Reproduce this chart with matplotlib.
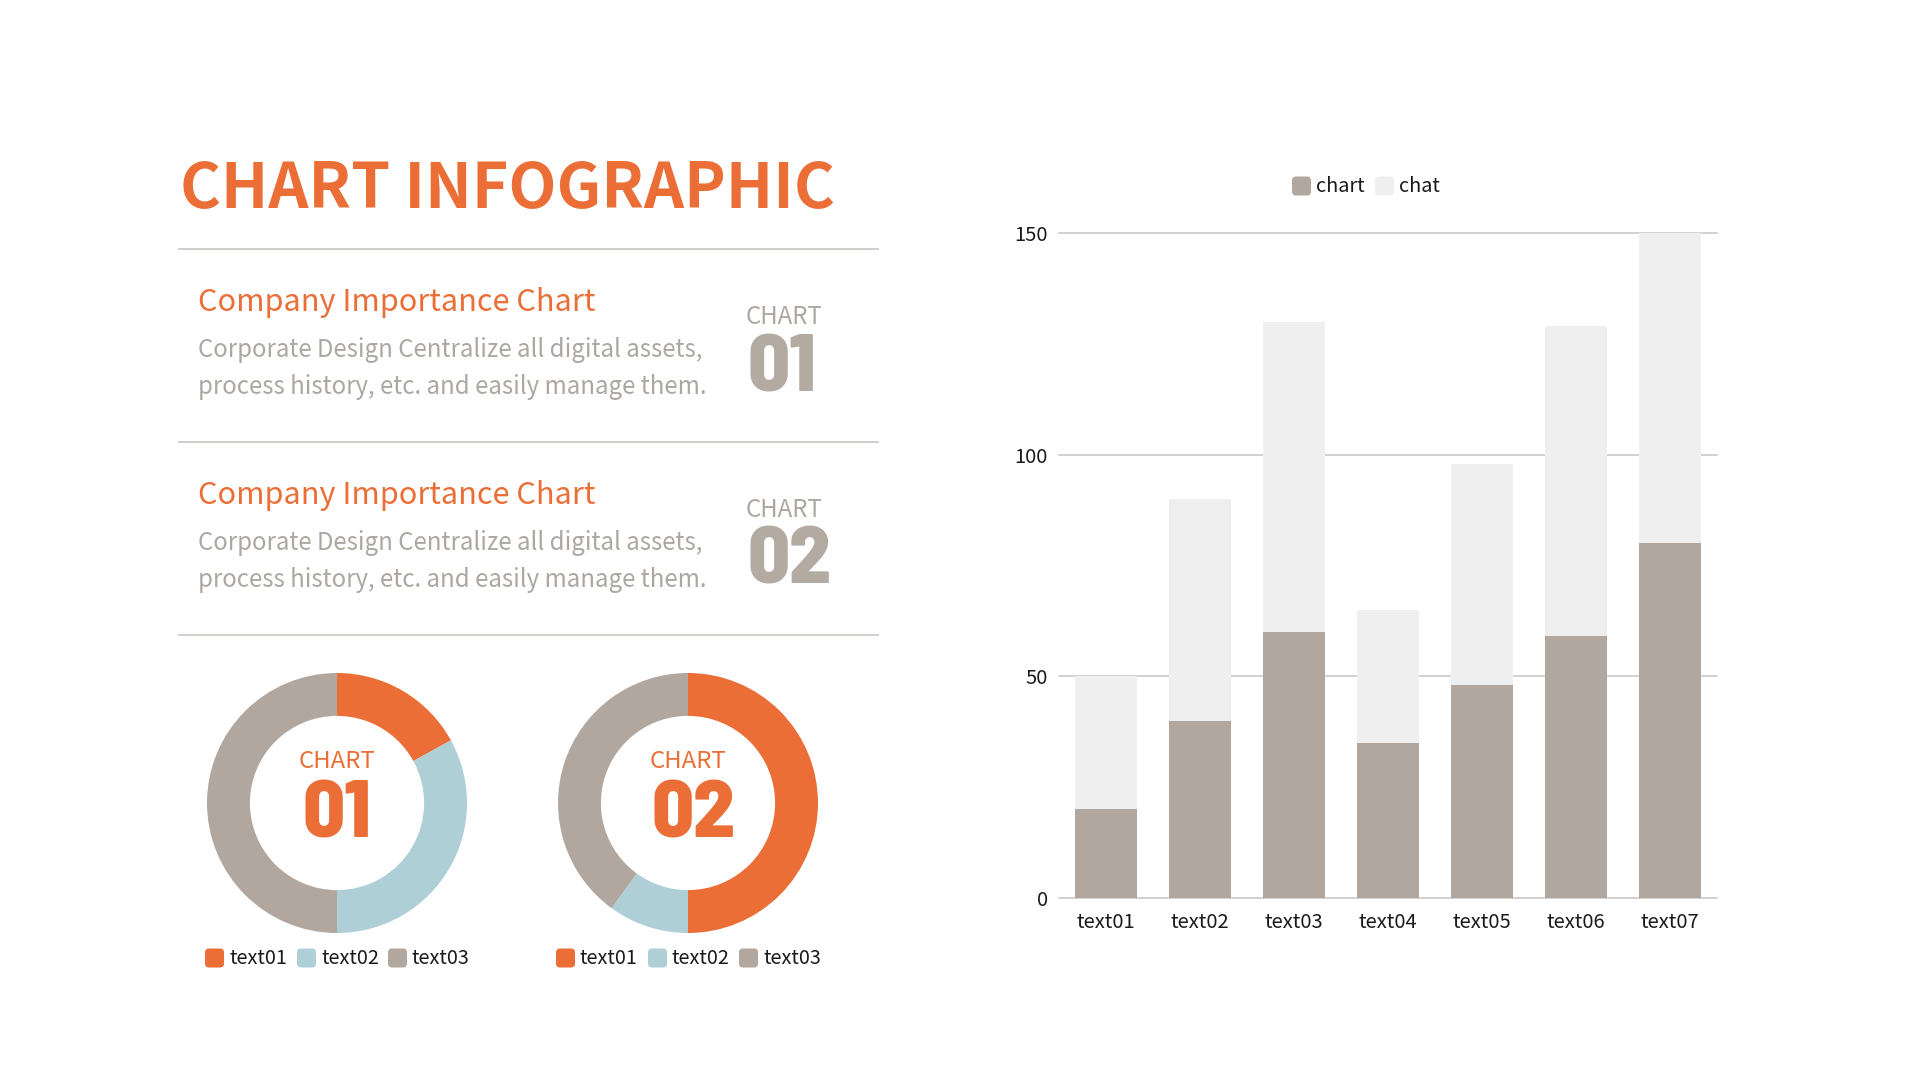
import matplotlib
matplotlib.use('Agg')
import matplotlib.pyplot as plt
from matplotlib import font_manager as fm
from matplotlib.patches import FancyBboxPatch
import numpy as np

# ---------------- data ----------------
bar_categories = ['text01', 'text02', 'text03', 'text04', 'text05', 'text06', 'text07']
chart_values = [20, 40, 60, 35, 48, 59, 80]
chat_values = [30, 50, 70, 30, 50, 70, 70]
bar_series = ['chart', 'chat']
y_ticks = [0, 50, 100, 150]

donut_labels = ['text01', 'text02', 'text03']
donut1_values = [17, 33, 50]
donut2_values = [50, 10, 40]
donut_numbers = ['01', '02']

title_text = 'CHART INFOGRAPHIC'
block_heading = 'Company Importance Chart'
block_body = ['Corporate Design Centralize all digital assets,',
              'process history, etc. and easily manage them.']
block_numbers = ['01', '02']
chart_word = 'CHART'

# ---------------- style ----------------
ORANGE = '#EB6E37'
BLUE = '#AECFD6'
GREY = '#B1A79F'
LIGHT = '#EFEFEF'
TEXT_GREY = '#ADA7A1'
NUM_GREY = '#B3AAA2'
LINE = '#C9C5C1'
GRID = '#CACACA'
DARK = '#1A1A1A'
CJK = ['Noto Sans CJK SC', 'DejaVu Sans']

ttf = fm.fontManager.ttflist
names = {f.name for f in ttf}
dj_cond = [f for f in ttf if f.name == 'DejaVu Sans' and 'ondensed' in str(f.stretch)]
if 'Barlow Semi Condensed' in names:
    DIGIT = dict(family=['Barlow Semi Condensed', 'DejaVu Sans'], fontweight=800)
    DIGIT_SIZE = 59
elif 'Barlow Condensed' in names:
    DIGIT = dict(family=['Barlow Condensed', 'DejaVu Sans'], fontweight=800)
    DIGIT_SIZE = 59
elif dj_cond:
    DIGIT = dict(family=['DejaVu Sans'], fontweight='bold', fontstretch='condensed')
    DIGIT_SIZE = 48
else:
    DIGIT = dict(family=['Roboto', 'DejaVu Sans'], fontweight='black')
    DIGIT_SIZE = 50

plt.rcParams['font.family'] = CJK

fig = plt.figure(figsize=(19.2, 10.8), dpi=100)
fig.patch.set_facecolor('white')
canvas = fig.add_axes([0, 0, 1, 1], zorder=0)
canvas.set_xlim(0, 1920)
canvas.set_ylim(1080, 0)
canvas.axis('off')
renderer = fig.canvas.get_renderer()


def fit_text(x, y, s, width, size, **kw):
    t = canvas.text(x, y, s, fontsize=size, **kw)
    w = t.get_window_extent(renderer).width
    t.set_fontsize(size * width / w)
    return t


# title
fit_text(180, 208, title_text, 655, 53, color=ORANGE, fontweight='bold',
         va='baseline', ha='left')

# separators
for ys in [249, 442, 635]:
    canvas.plot([178, 879], [ys, ys], color=LINE, lw=1.2, solid_capstyle='butt')

# text blocks
for i in range(2):
    dy = i * 193
    fit_text(198, 311 + dy, block_heading, 397, 25, color=ORANGE, va='baseline')
    t1 = fit_text(198, 357 + dy, block_body[0], 505, 20.5, color=TEXT_GREY, va='baseline')
    canvas.text(198, 394 + dy, block_body[1], fontsize=t1.get_fontsize(),
                color=TEXT_GREY, va='baseline')
    fit_text(746, 324 + dy, chart_word, 77, 19, color=TEXT_GREY, fontweight='light',
             va='baseline')
    canvas.text(747, 391 + dy, block_numbers[i], fontsize=DIGIT_SIZE, color=NUM_GREY,
                va='baseline', ha='left', **DIGIT)

# donuts
centers = [(337, 803), (688, 803)]
R = 130
donut_values = [donut1_values, donut2_values]
colors = [ORANGE, BLUE, GREY]
for k, (cx, cy) in enumerate(centers):
    ax = fig.add_axes([(cx - R) / 1920, (1080 - cy - R) / 1080, 2 * R / 1920, 2 * R / 1080],
                      zorder=2)
    ax.pie(donut_values[k], colors=colors, startangle=90, counterclock=False, radius=1,
           wedgeprops=dict(width=0.33, linewidth=0))
    ax.set_xlim(-1, 1)
    ax.set_ylim(-1, 1)
    ax.set_aspect('equal')
    ax.axis('off')
    fit_text(cx, cy - 35, chart_word, 77, 18, color=ORANGE, fontweight='light',
             ha='center', va='baseline', zorder=3)
    canvas.text(cx + (0 if k == 0 else 5), cy + 34, donut_numbers[k], fontsize=DIGIT_SIZE,
                color=ORANGE, ha='center', va='baseline', zorder=3, **DIGIT)
    # legend
    offs = [-132, -40, 51]
    for j, lab in enumerate(donut_labels):
        sx = cx + offs[j]
        canvas.add_patch(FancyBboxPatch((sx, 958 - 9.5), 19, 19,
                                        boxstyle='round,pad=0,rounding_size=4',
                                        fc=colors[j], ec='none'))
        canvas.text(sx + 24, 958, lab, fontsize=14.3, color=DARK, va='center', ha='left')

# bar chart
bx0, bx1, by0, by1 = 1059, 1717, 898, 233
bax = fig.add_axes([bx0 / 1920, 1 - by0 / 1080, (bx1 - bx0) / 1920, (by0 - by1) / 1080],
                   zorder=1)
x = np.arange(len(bar_categories))
bax.bar(x, chart_values, width=0.66, color=GREY, zorder=3, label=bar_series[0])
bax.bar(x, chat_values, bottom=chart_values, width=0.66, color=LIGHT, zorder=3,
        label=bar_series[1])
bax.set_xlim(-0.5, len(bar_categories) - 0.5)
bax.set_ylim(0, 150)
bax.set_yticks(y_ticks)
bax.set_yticklabels([str(v) for v in y_ticks])
bax.set_xticks(x)
bax.set_xticklabels(bar_categories)
bax.grid(axis='y', color=GRID, lw=1.2, zorder=0)
bax.set_axisbelow(True)
for gl in bax.get_ygridlines():
    gl.set_clip_on(False)
for s in bax.spines.values():
    s.set_visible(False)
bax.tick_params(axis='both', length=0, labelsize=14.5, colors=DARK)
bax.tick_params(axis='y', pad=8)
bax.tick_params(axis='x', pad=10)
bax.set_facecolor('none')

# bar legend
leg_x = [1292, 1375]
for j, lab in enumerate(bar_series):
    canvas.add_patch(FancyBboxPatch((leg_x[j], 186 - 9.5), 19, 19,
                                    boxstyle='round,pad=0,rounding_size=4',
                                    fc=[GREY, LIGHT][j], ec='none'))
    canvas.text(leg_x[j] + 24, 186, lab, fontsize=14.3, color=DARK, va='center', ha='left')

fig.savefig('out.png', dpi=100, facecolor='white')
